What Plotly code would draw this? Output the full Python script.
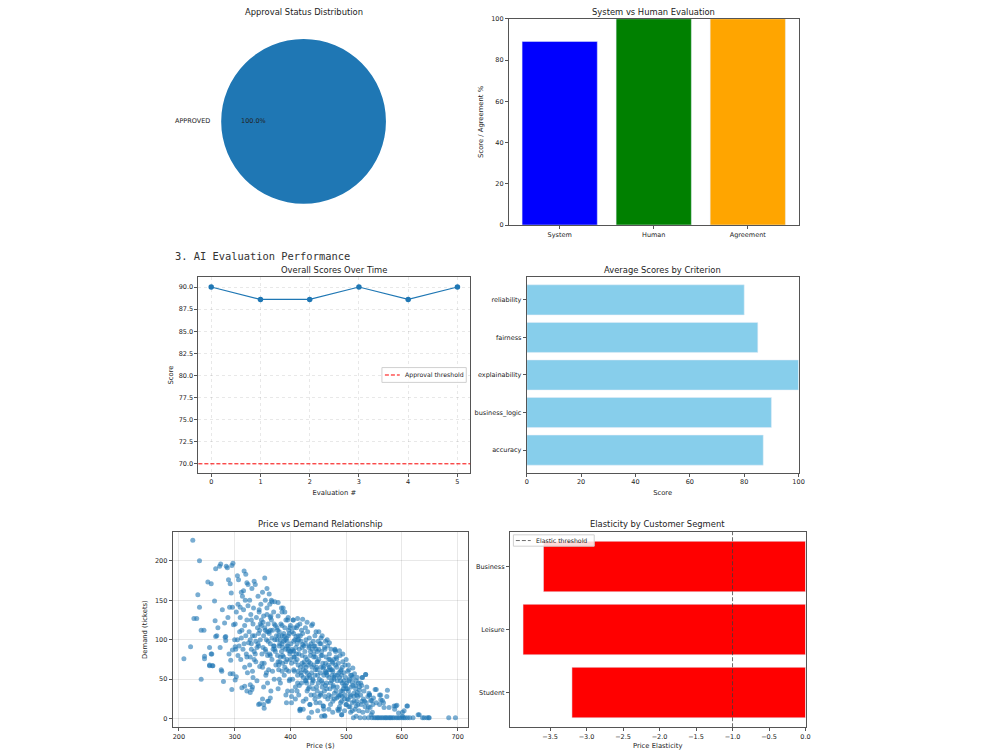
import plotly.graph_objects as go

# ---------------- data ----------------
status_labels = ["APPROVED"]
status_counts = [1]
status_pct_text = ["100.0%"]

eval_categories = ["System", "Human", "Agreement"]
eval_values = [89, 100, 100]
eval_colors = ["#0000ff", "#008000", "#ffa500"]

eval_index = [0, 1, 2, 3, 4, 5]
overall_scores = [90.0, 88.6, 88.6, 90.0, 88.6, 90.0]
approval_threshold = 70
threshold_label = "Approval threshold"

criteria = ["accuracy", "business_logic", "explainability", "fairness", "reliability"]
criteria_scores = [87, 90, 100, 85, 80]

price = [
    225, 237, 209, 221, 234, 237, 227, 232, 240, 245,
    240, 246, 252, 258, 255, 258, 261, 255, 264, 265,
    266, 268, 273, 275, 274, 276, 280, 282, 283, 285,
    287, 289, 292, 294, 291, 296, 295, 295, 297, 293,
    292, 303, 301, 305, 307, 310, 314, 316, 317, 320,
    322, 324, 328, 332, 328, 335, 354, 345, 353, 350,
    359, 270, 278, 284, 288, 298, 300, 302, 306, 309,
    246, 255, 260, 259, 266, 284, 277, 297, 290, 296,
    301, 313, 318, 322, 331, 343, 352, 361, 364, 330,
    335, 340, 345, 312, 317, 322, 327, 332, 337, 330,
    301, 303, 305, 306, 308, 310, 311, 312, 313, 315,
    316, 318, 319, 320, 321, 322, 323, 324, 325, 318,
    326, 327, 328, 329, 330, 331, 332, 333, 334, 335,
    336, 337, 338, 339, 340, 341, 342, 343, 344, 345,
    346, 347, 348, 349, 350, 328, 333, 338, 343, 348,
    351, 352, 353, 354, 355, 356, 357, 358, 359, 360,
    361, 362, 363, 364, 365, 366, 367, 368, 369, 370,
    371, 372, 373, 374, 375, 352, 356, 360, 364, 368,
    355, 359, 363, 367, 371,
    376, 377, 378, 379, 380, 381, 382, 383, 384, 385,
    386, 387, 388, 389, 390, 391, 392, 393, 394, 395,
    396, 397, 398, 399, 400, 378, 382, 386, 390, 394,
    398, 377, 381, 385, 389, 393, 397, 380, 388, 396,
    401, 402, 403, 404, 405, 406, 407, 408, 409, 410,
    411, 412, 413, 414, 415, 416, 417, 418, 419, 420,
    421, 422, 423, 424, 425, 403, 407, 411, 415, 419,
    402, 406, 410, 414, 418, 422, 417, 423, 405, 413,
    426, 427, 428, 429, 430, 431, 432, 433, 434, 435,
    436, 437, 438, 439, 440, 441, 442, 443, 444, 445,
    446, 447, 448, 449, 450, 428, 432, 436, 440, 444,
    430, 434, 438, 442, 446, 450, 427, 439, 447, 449,
    451, 452, 453, 454, 455, 456, 457, 458, 459, 460,
    461, 462, 463, 464, 465, 466, 467, 468, 469, 470,
    471, 472, 473, 474, 475, 453, 457, 461, 465, 469,
    455, 463, 467, 473, 459, 471, 475, 451,
    476, 477, 478, 479, 480, 481, 482, 483, 484, 485,
    486, 487, 488, 489, 490, 491, 492, 493, 494, 495,
    496, 497, 498, 499, 500, 478, 482, 486, 490, 494,
    480, 488, 496, 500, 492,
    501, 502, 503, 504, 505, 506, 507, 508, 509, 510,
    511, 512, 513, 514, 515, 516, 517, 518, 519, 520,
    521, 522, 523, 524, 525, 504, 512, 518,
    526, 527, 528, 529, 530, 531, 532, 533, 534, 535,
    536, 537, 538, 539, 540, 541, 542, 543, 544, 545,
    546, 548,
    358, 362, 366, 372, 378, 384, 390, 396, 405, 413,
    422, 430, 438, 446, 455, 463, 470, 480, 488, 494,
    549, 554, 560, 562, 567, 568, 577, 586, 587, 601,
    610, 604, 631, 554, 562, 574, 573, 552, 565, 589,
    591, 594, 601, 609, 629, 560, 546, 542, 535, 529,
    550, 553, 556, 558, 561, 564, 567, 570, 572, 575,
    578, 580, 583, 586, 590, 593, 596, 600, 603, 606,
    610, 614, 620, 637, 645, 649, 684, 696, 640, 648,
    433, 456, 461, 492, 500, 417, 423, 435, 459, 488,
    342, 346, 349, 352, 355, 358, 361, 364, 367, 370,
    373, 376, 379, 382, 385, 388, 391, 394, 397, 400,
    403, 406, 409, 412, 415, 418, 421, 424, 427, 430,
    433, 436, 439, 442, 445, 448, 451, 454, 457, 460,
    463, 466, 469, 472, 475, 478, 481, 484, 487, 490,
    493, 496, 499, 502, 505, 508, 511, 514, 517, 520,
    385, 392, 399, 406, 413, 420, 427, 434, 441, 448,
    455, 462, 469, 476, 483, 490, 497, 504, 511, 518,
    350, 357, 364, 371, 378, 385, 392, 399, 406, 413,
    420, 427, 434, 441, 448, 455, 462, 469, 476, 483,
    395, 402, 409, 416, 423, 430, 437, 444, 451, 458,
    465, 472, 479, 486, 493, 500, 507, 514, 521, 528,
    344, 351, 358, 365, 372, 379, 386, 393, 400, 407,
    414, 421, 428, 435, 442, 449, 456, 463, 470, 477,
    484, 491, 498, 505, 512, 519, 526, 533, 540, 547,
    380, 396, 412, 428, 444, 460, 476, 492, 508, 524,
]

demand = [
    226, 200, 76, 91, 157, 141, 127, 127, 112, 112,
    50, 76, 173, 171, 90, 82, 67, 67, 149, 124,
    190, 105, 193, 196, 90, 62, 47, 121, 103, 193,
    191, 176, 171, 159, 141, 141, 37, 194, 197, 74,
    57, 53, 49, 181, 176, 141, 155, 162, 187, 183,
    172, 170, 43, 40, 33, 174, 178, 19, 13, 25,
    22, 115, 138, 99, 128, 119, 100, 88, 80, 110,
    79, 68, 67, 82, 104, 104, 60, 57, 82, 87,
    91, 39, 41, 35, 37, 18, 18, 22, 26, 88,
    75, 90, 112, 102, 95, 78, 68, 105, 82, 125,
    120, 135, 100, 145, 92, 128, 75, 160, 112, 88,
    138, 65, 150, 105, 82, 125, 58, 143, 96, 118,
    110, 150, 78, 132, 95, 165, 60, 120, 140, 85,
    105, 170, 72, 128, 48, 115, 155, 92, 135, 66,
    100, 145, 118, 82, 160, 100, 52, 98, 108, 125,
    90, 130, 70, 115, 150, 55, 100, 140, 80, 120,
    62, 108, 145, 95, 35, 125, 75, 112, 88, 135,
    50, 100, 118, 68, 105, 40, 85, 98, 128, 60,
    112, 45, 82, 148, 92,
    100, 80, 130, 62, 110, 95, 45, 120, 85, 105,
    70, 140, 98, 55, 115, 88, 30, 102, 75, 125,
    92, 60, 108, 82, 118, 38, 100, 90, 65, 98,
    48, 112, 72, 135, 104, 20, 86, 92, 78, 105,
    95, 70, 110, 50, 125, 85, 60, 100, 40, 90,
    115, 75, 55, 105, 30, 88, 120, 65, 98, 45,
    80, 108, 62, 92, 72, 35, 115, 82, 100, 58,
    20, 78, 104, 68, 12, 94, 10, 52, 86, 118,
    85, 60, 100, 45, 75, 110, 38, 90, 55, 18,
    70, 95, 8, 65, 120, 48, 82, 30, 105, 62,
    88, 40, 72, 55, 98, 25, 68, 80, 50, 92,
    35, 102, 58, 78, 20, 45, 115, 88, 65, 10,
    75, 50, 95, 30, 65, 85, 40, 70, 16, 55,
    90, 3, 60, 78, 45, 100, 25, 68, 52, 82,
    38, 62, 88, 48, 72, 20, 105, 35, 58, 12,
    80, 42, 92, 28, 64, 75, 55, 110,
    60, 40, 75, 25, 55, 85, 35, 65, 48, 12,
    70, 30, 52, 80, 20, 62, 5, 45, 72, 38,
    58, 25, 68, 42, 18, 50, 78, 28, 60, 35,
    88, 15, 48, 75, 55,
    45, 25, 60, 35, 15, 50, 30, 8, 40, 55,
    20, 42, 1, 32, 57, 12, 38, 48, 22, 52,
    28, 45, 10, 36, 1, 68, 64, 3,
    30, 18, 42, 52, 8, 25, 35, 1, 15, 56,
    20, 40, 10, 28, 1, 32, 30, 14, 23, 5,
    1, 18,
    165, 158, 150, 148, 147, 140, 135, 128, 125, 127,
    126, 122, 118, 110, 102, 98, 96, 87, 86, 82,
    26, 20, 18, 24, 20, 14, 14, 16, 12, 8,
    16, 10, 5, 37, 30, 36, 28, 37, 23, 16,
    17, 7, 3, 16, 5, 30, 23, 30, 56, 52,
    1, 1, 1, 1, 1, 1, 1, 1, 1, 1,
    1, 1, 1, 1, 1, 1, 1, 1, 1, 1,
    1, 1, 1, 1, 1, 1, 1, 1, 1, 1,
    1, 3, 4, 5, 18, 12, 12, 18, 16, 12,
    95, 120, 70, 105, 88, 132, 110, 80, 102, 92,
    85, 115, 105, 78, 95, 108, 100, 92, 112, 75,
    88, 98, 72, 95, 82, 105, 90, 68, 95, 58,
    72, 85, 45, 92, 78, 62, 88, 58, 80, 66,
    70, 55, 75, 45, 62, 52, 68, 40, 58, 48,
    65, 42, 52, 38, 48, 28, 46, 22, 42, 33,
    60, 72, 50, 62, 45, 55, 48, 40, 38, 35,
    32, 28, 30, 22, 26, 30, 10, 24, 10, 16,
    65, 58, 112, 120, 72, 118, 125, 115, 108, 100,
    112, 78, 92, 98, 85, 95, 88, 62, 70, 76,
    35, 28, 25, 42, 22, 52, 30, 25, 28, 45,
    38, 18, 32, 10, 28, 38, 15, 28, 18, 22,
    138, 122, 110, 130, 88, 68, 80, 62, 85, 78,
    60, 70, 65, 52, 68, 72, 48, 58, 65, 42,
    55, 35, 30, 62, 52, 30, 45, 22, 15, 8,
    50, 88, 35, 48, 55, 12, 8, 22, 55, 40,
]

segments = ["Student", "Leisure", "Business"]
elasticity = [-3.20, -3.87, -3.59]
elastic_threshold = -1.0
elastic_label = "Elastic threshold"
elasticity_ticks = [-3.5, -3.0, -2.5, -2.0, -1.5, -1.0, -0.5, 0.0]

# ---------------- helpers ----------------
W, H = 1000, 750
def px(x):
    return x / W
def py(y):
    return 1 - y / H

TICK_FONT = dict(family="DejaVu Sans", size=6.5, color="#222")
LEG_FONT = dict(family="DejaVu Sans", size=6.2, color="#222")
LABEL_FONT = dict(family="DejaVu Sans", size=6.8, color="#222")
TITLE_FONT = dict(family="DejaVu Sans", size=8.4, color="#222")

def axis(domain, **kw):
    base = dict(domain=domain, showline=True, linecolor="#555", linewidth=1,
                mirror=True, ticks="outside", ticklen=3, tickcolor="#555",
                tickwidth=0.8, tickfont=TICK_FONT, showgrid=False,
                zeroline=False, title_font=LABEL_FONT)
    base.update(kw)
    return base

fig = go.Figure()

# 1. pie
fig.add_trace(go.Pie(labels=status_labels, values=status_counts,
                     marker=dict(colors=["#1f77b4"]), textinfo="none",
                     sort=False, showlegend=False, hoverinfo="skip",
                     domain=dict(x=[px(220.5), px(387.5)], y=[py(202.5), py(35.5)])))

# 2. system vs human bars
fig.add_trace(go.Bar(x=eval_categories, y=eval_values, marker_color=eval_colors,
                     width=0.8, showlegend=False, xaxis="x", yaxis="y"))

# 3. overall scores line
fig.add_trace(go.Scatter(x=eval_index, y=overall_scores, mode="lines+markers",
                         line=dict(color="#1f77b4", width=1.2),
                         marker=dict(size=5.5, color="#1f77b4"),
                         showlegend=False, xaxis="x2", yaxis="y2"))

# 4. criteria hbar
fig.add_trace(go.Bar(y=criteria, x=criteria_scores, orientation="h",
                     marker_color="#87ceeb", width=0.8, showlegend=False,
                     xaxis="x3", yaxis="y3"))

# 5. price vs demand scatter
fig.add_trace(go.Scatter(x=price, y=demand, mode="markers",
                         marker=dict(size=5, color="#1f77b4", opacity=0.6,
                                     line=dict(width=0)),
                         showlegend=False, xaxis="x4", yaxis="y4"))

# 6. elasticity hbar
fig.add_trace(go.Bar(y=segments, x=elasticity, orientation="h",
                     marker_color="#ff0000", width=0.8, showlegend=False,
                     xaxis="x5", yaxis="y5"))

RED_DASH = dict(color="red", width=1, dash="4px,2px")
GRAY_DASH = dict(color="rgba(60,60,60,0.75)", width=1, dash="4px,2px")

shapes = [
    dict(type="line", xref="x2 domain", x0=0, x1=1, yref="y2",
         y0=approval_threshold, y1=approval_threshold, line=RED_DASH),
    dict(type="line", yref="y5 domain", y0=0, y1=1, xref="x5",
         x0=elastic_threshold, x1=elastic_threshold, line=GRAY_DASH),
    # legend boxes (matplotlib-style)
    dict(type="rect", xref="paper", yref="paper", x0=px(383), x1=px(468),
         y0=py(383.5), y1=py(368.5), fillcolor="rgba(255,255,255,0.85)",
         line=dict(color="#d0d0d0", width=1), layer="above"),
    dict(type="line", xref="paper", yref="paper", x0=px(386), x1=px(401),
         y0=py(376), y1=py(376), line=RED_DASH, layer="above"),
    dict(type="rect", xref="paper", yref="paper", x0=px(515.5), x1=px(597),
         y0=py(549.5), y1=py(538), fillcolor="rgba(255,255,255,0.85)",
         line=dict(color="#d0d0d0", width=1), layer="above"),
    dict(type="line", xref="paper", yref="paper", x0=px(518), x1=px(533),
         y0=py(543.8), y1=py(543.8), line=GRAY_DASH, layer="above"),
]

def title_ann(text, x, y, font=TITLE_FONT, xanchor="center"):
    return dict(text=text, x=px(x), y=py(y), xref="paper", yref="paper",
                showarrow=False, font=font, xanchor=xanchor, yanchor="middle")

annotations = [
    title_ann("Approval Status Distribution", 304, 8),
    title_ann("System vs Human Evaluation", 657, 8),
    title_ann("Overall Scores Over Time", 335, 270),
    title_ann("Average Scores by Criterion", 666, 270),
    title_ann("Price vs Demand Relationship", 321, 527),
    title_ann("Elasticity by Customer Segment", 661, 527),
    title_ann("3. AI Evaluation Performance", 172, 255,
              font=dict(family="DejaVu Sans Mono", size=10.4, color="#333"),
              xanchor="left"),
    dict(text=status_labels[0], x=px(212), y=py(119), xref="paper", yref="paper",
         showarrow=False, font=TICK_FONT, xanchor="right", yanchor="middle"),
    dict(text=status_pct_text[0], x=px(254), y=py(119), xref="paper", yref="paper",
         showarrow=False, font=TICK_FONT, xanchor="center", yanchor="middle"),
    dict(text=threshold_label, x=px(404), y=py(376), xref="paper", yref="paper",
         showarrow=False, font=LEG_FONT, xanchor="left", yanchor="middle"),
    dict(text=elastic_label, x=px(536), y=py(543.8), xref="paper", yref="paper",
         showarrow=False, font=LEG_FONT, xanchor="left", yanchor="middle"),
]

GRID = "rgba(0,0,0,0.09)"

fig.update_layout(
    width=W, height=H, margin=dict(l=0, r=0, t=0, b=0),
    paper_bgcolor="white", plot_bgcolor="white",
    font=dict(family="DejaVu Sans", color="#222"),
    showlegend=False,
    xaxis=axis([px(511), px(803)], range=[-0.54, 2.54], anchor="y"),
    yaxis=axis([py(224), py(15)], range=[0, 100], dtick=20, anchor="x",
               title=dict(text="Score / Agreement %", standoff=6)),
    xaxis2=axis([px(198), px(472)], range=[-0.26, 5.26], dtick=1, anchor="y2",
                showgrid=True, gridcolor=GRID, griddash="dot",
                title=dict(text="Evaluation #", standoff=4)),
    yaxis2=axis([py(475), py(277)], range=[69.0, 91.1], dtick=2.5, tickformat=".1f",
                anchor="x2", showgrid=True, gridcolor=GRID, griddash="dot",
                title=dict(text="Score", standoff=4)),
    xaxis3=axis([px(529), px(803)], range=[0, 100], dtick=20, anchor="y3",
                title=dict(text="Score", standoff=4)),
    yaxis3=axis([py(475), py(277)], range=[-0.6, 4.6], anchor="x3",
                categoryorder="array", categoryarray=criteria),
    xaxis4=axis([px(172), px(470)], range=[188.8, 719], dtick=100, anchor="y4",
                showgrid=True, gridcolor=GRID,
                title=dict(text="Price ($)", standoff=4)),
    yaxis4=axis([py(733), py(535)], range=[-10.9, 236.6], dtick=50, anchor="x4",
                showgrid=True, gridcolor=GRID,
                title=dict(text="Demand (tickets)", standoff=6)),
    xaxis5=axis([px(512), px(810)], range=[-4.05, 0.0], tickmode="array",
                tickvals=elasticity_ticks, tickformat=".1f",
                anchor="y5", title=dict(text="Price Elasticity", standoff=4)),
    yaxis5=axis([py(733), py(535)], range=[-0.55, 2.55], anchor="x5",
                categoryorder="array", categoryarray=segments),
    shapes=shapes,
    annotations=annotations,
)

fig.write_html("out.html")
